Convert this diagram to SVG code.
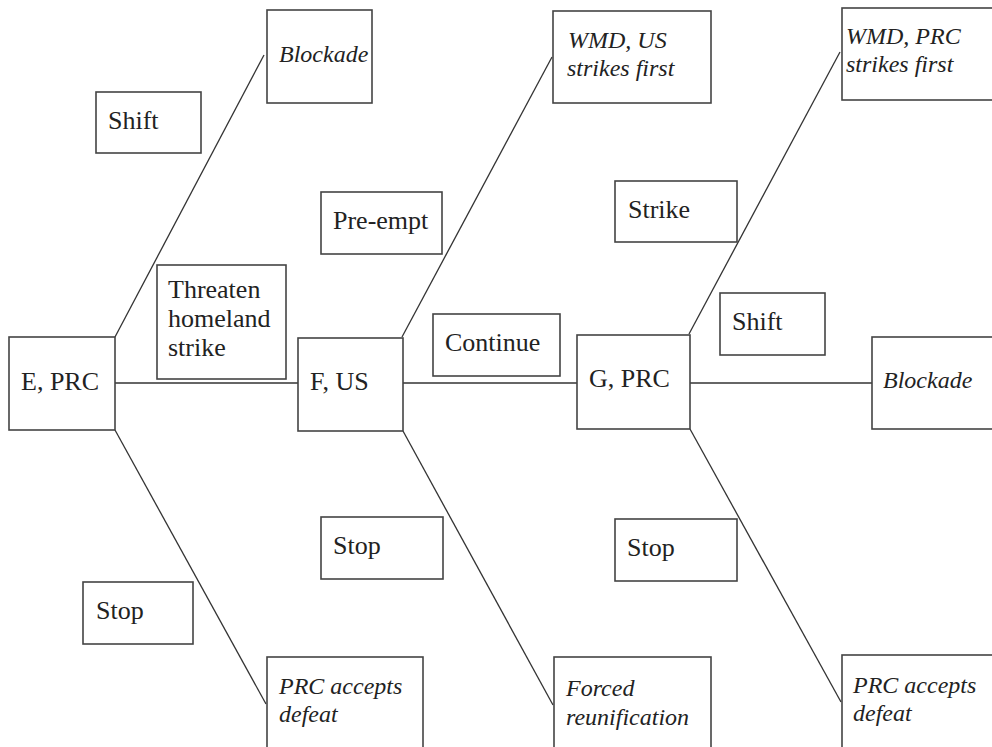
<svg xmlns="http://www.w3.org/2000/svg" width="992" height="747" viewBox="0 0 992 747">
<style>
.box{fill:#fff;stroke:#444;stroke-width:1.6}
.t{font-size:26px;fill:#222}
.i{font-size:24px;font-style:italic;fill:#222}
.c{stroke:#333;stroke-width:1.3;fill:none}
</style>
<rect width="992" height="747" fill="#fff"/>
<g id="connectors">
<line class="c" x1="115" y1="383" x2="298" y2="383"/>
<line class="c" x1="403" y1="383" x2="577" y2="383"/>
<line class="c" x1="690" y1="383" x2="872" y2="383"/>
<line class="c" x1="115" y1="337" x2="264" y2="55"/>
<line class="c" x1="402" y1="337" x2="552" y2="57"/>
<line class="c" x1="689" y1="334" x2="840" y2="52"/>
<line class="c" x1="115" y1="430" x2="266" y2="704"/>
<line class="c" x1="403" y1="431" x2="553" y2="705"/>
<line class="c" x1="690" y1="429" x2="841" y2="702"/>
</g>
<g font-family="'Liberation Serif', 'Times New Roman', Times, serif">
<g id="nodeE"><rect class="box" x="9" y="337" width="106" height="93"/><text class="t" x="21" y="390">E, PRC</text></g>
<g id="nodeF"><rect class="box" x="298" y="338" width="105" height="93"/><text class="t" x="310" y="390">F, US</text></g>
<g id="nodeG"><rect class="box" x="577" y="335" width="113" height="94"/><text class="t" x="589" y="387">G, PRC</text></g>
<g id="blockade1"><rect class="box" x="267" y="10" width="105" height="93"/><text class="i" x="279" y="62">Blockade</text></g>
<g id="shift1"><rect class="box" x="96" y="92" width="105" height="61"/><text class="t" x="108" y="129">Shift</text></g>
<g id="preempt"><rect class="box" x="321" y="192" width="121" height="62"/><text class="t" x="333" y="229">Pre-empt</text></g>
<g id="threaten"><rect class="box" x="157" y="265" width="129" height="114"/><text class="t" x="168" y="298">Threaten</text><text class="t" x="168" y="327">homeland</text><text class="t" x="168" y="356">strike</text></g>
<g id="wmdUS"><rect class="box" x="553" y="11" width="158" height="92"/><text class="i" x="568" y="48">WMD, US</text><text class="i" x="567" y="76">strikes first</text></g>
<g id="wmdPRC"><rect class="box" x="842" y="8" width="160" height="92"/><text class="i" x="846" y="44">WMD, PRC</text><text class="i" x="846" y="72">strikes first</text></g>
<g id="strike"><rect class="box" x="615" y="181" width="122" height="61"/><text class="t" x="628" y="218">Strike</text></g>
<g id="continue"><rect class="box" x="433" y="314" width="127" height="62"/><text class="t" x="445" y="351">Continue</text></g>
<g id="shift2"><rect class="box" x="720" y="293" width="105" height="62"/><text class="t" x="732" y="330">Shift</text></g>
<g id="blockade2"><rect class="box" x="872" y="337" width="130" height="92"/><text class="i" x="883" y="388">Blockade</text></g>
<g id="stop1"><rect class="box" x="83" y="582" width="110" height="62"/><text class="t" x="96" y="619">Stop</text></g>
<g id="stop2"><rect class="box" x="321" y="517" width="122" height="62"/><text class="t" x="333" y="554">Stop</text></g>
<g id="stop3"><rect class="box" x="615" y="519" width="122" height="62"/><text class="t" x="627" y="556">Stop</text></g>
<g id="defeat1"><rect class="box" x="267" y="657" width="156" height="100"/><text class="i" x="279" y="694">PRC accepts</text><text class="i" x="279" y="722">defeat</text></g>
<g id="forced"><rect class="box" x="554" y="657" width="157" height="100"/><text class="i" x="566" y="696">Forced</text><text class="i" x="566" y="725">reunification</text></g>
<g id="defeat2"><rect class="box" x="842" y="655" width="160" height="102"/><text class="i" x="853" y="693">PRC accepts</text><text class="i" x="853" y="721">defeat</text></g>
</g>
</svg>
